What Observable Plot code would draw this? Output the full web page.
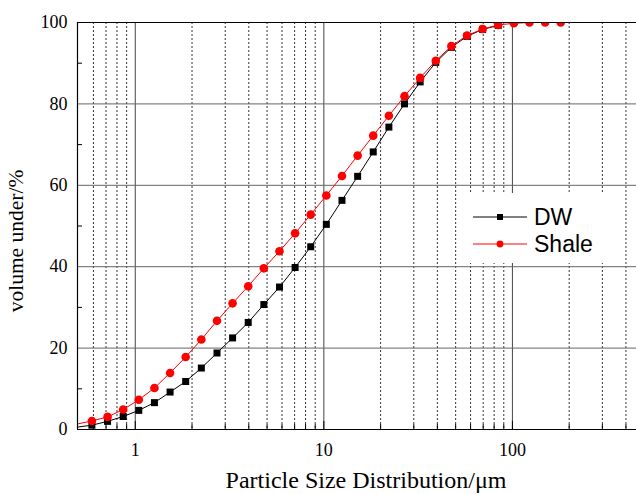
<!DOCTYPE html>
<html>
<head>
<meta charset="utf-8">
<script src="https://cdn.jsdelivr.net/npm/d3@7"></script>
<script src="https://cdn.jsdelivr.net/npm/@observablehq/plot@0.6"></script>
<style>
  html, body { margin: 0; padding: 0; background: #fff; }
  #wrap { position: relative; width: 636px; height: 494px; overflow: hidden; }
  #legend { position: absolute; left: 458px; top: 193px; width: 164px; height: 70px; background: #fff; font-family: "Liberation Sans", Arial, sans-serif; font-size: 23px; color: #000; }
  .row { position: absolute; left: 0; height: 28px; display: flex; align-items: center; }
  .row svg { display: block; margin-left: 15px; }
  .row span { margin-left: 7px; line-height: 28px; }
</style>
</head>
<body>
<div id="wrap"><div id="chart"></div>
<div id="legend">
  <div class="row" style="top:10px"><svg width="54" height="14"><line x1="0" x2="54" y1="7" y2="7" stroke="#000" stroke-width="1"/><rect x="24" y="4" width="6" height="6" fill="#000"/></svg><span>DW</span></div>
  <div class="row" style="top:37px"><svg width="54" height="14"><line x1="0" x2="54" y1="7" y2="7" stroke="#ff0000" stroke-width="1"/><circle cx="27" cy="7" r="3.4" fill="#ff0000"/></svg><span>Shale</span></div>
</div>
</div>
<script>
// Particle sizes (µm)
const sizes = [0.487, 0.589, 0.713, 0.863, 1.044, 1.264, 1.530, 1.851, 2.241, 2.713, 3.282, 3.972, 4.807, 5.818, 7.041, 8.521, 10.31, 12.48, 15.11, 18.28, 22.13, 26.78, 32.41, 39.22, 47.47, 57.44, 69.50, 84.13, 101.8, 123.2, 149.1, 180.4];
// Cumulative volume under (%)
const dwValues = [0.55, 1.06, 2.0, 3.2, 4.7, 6.6, 9.2, 11.8, 15.1, 18.8, 22.5, 26.3, 30.7, 35.0, 39.8, 44.9, 50.4, 56.3, 62.2, 68.2, 74.3, 80.0, 85.4, 90.2, 93.9, 96.6, 98.3, 99.3];
const shaleValues = [1.3, 2.1, 3.1, 4.9, 7.3, 10.2, 13.9, 17.8, 22.1, 26.7, 31.0, 35.2, 39.6, 43.8, 48.2, 52.8, 57.5, 62.3, 67.3, 72.2, 77.1, 81.9, 86.4, 90.6, 94.2, 96.8, 98.4, 99.4, 99.8, 100, 100, 100];
const seriesNames = ["DW", "Shale"];

const xMajor = [1, 10, 100];
const xTickLabels = ["1", "10", "100"];
const xMinor = [0.6, 0.7, 0.8, 0.9, 2, 3, 4, 5, 6, 7, 8, 9, 20, 30, 40, 50, 60, 70, 80, 90, 200, 300, 400];
const yMajor = [0, 20, 40, 60, 80, 100];
const yTickLabels = ["0", "20", "40", "60", "80", "100"];
const yGrid = [20, 40, 60, 80];
const yMinor = [10, 30, 50, 70, 90];
const xTitle = ["Particle Size Distribution/\u03bcm"];
const yTitle = ["volume under/%"];

const dw = dwValues.map((v, i) => ({x: sizes[i], y: v}));
const shale = shaleValues.map((v, i) => ({x: sizes[i], y: v}));
const xDomain = [0.494, 455];
const frameW = 636 - 77, frameH = 429 - 22;

const chart = Plot.plot({
  width: 636,
  height: 494,
  marginLeft: 77,
  marginRight: 0,
  marginTop: 22,
  marginBottom: 65,
  style: {fontFamily: "'Liberation Serif', 'Times New Roman', serif", background: "#fff", color: "#000"},
  x: {type: "log", domain: xDomain},
  y: {domain: [0, 100]},
  marks: [
    Plot.ruleX(xMinor, {stroke: "#000", strokeWidth: 1, strokeDasharray: "2,2", strokeOpacity: 0.8}),
    Plot.ruleX(xMajor, {stroke: "#444", strokeWidth: 1}),
    Plot.ruleY(yGrid, {stroke: "#666", strokeWidth: 1}),
    Plot.tickX(xMinor, {insetTop: frameH - 5, stroke: "#000", strokeWidth: 1}),
    Plot.tickX(xMajor, {insetTop: frameH - 8, stroke: "#000", strokeWidth: 1}),
    Plot.tickY(yMinor, {insetRight: frameW - 5, stroke: "#000", strokeWidth: 1}),
    Plot.line(dw, {x: "x", y: "y", stroke: "#000", strokeWidth: 1, clip: true}),
    Plot.dot(dw, {filter: d => d.x > xDomain[0], x: "x", y: "y", symbol: "square", r: 3.95, fill: "#000", clip: true}),
    Plot.line(shale, {x: "x", y: "y", stroke: "#ff0000", strokeWidth: 1, clip: true}),
    Plot.dot(shale, {filter: d => d.x > xDomain[0], x: "x", y: "y", symbol: "circle", r: 4.3, fill: "#ff0000", clip: true}),
    Plot.ruleY([100], {stroke: "#000", strokeWidth: 1.2}),
    Plot.ruleY([0], {stroke: "#000", strokeWidth: 1.2}),
    Plot.ruleX([xDomain[0]], {stroke: "#000", strokeWidth: 1.2}),
    Plot.axisX(xMajor, {tickSize: 0, tickPadding: 14, fontSize: 18, label: null, tickFormat: d => xTickLabels[xMajor.indexOf(d)]}),
    Plot.axisY(yMajor, {tickSize: 0, tickPadding: 10, fontSize: 18, label: null, tickFormat: d => yTickLabels[yMajor.indexOf(d)]}),
    Plot.text(xTitle, {frameAnchor: "bottom", textAnchor: "middle", dx: 9, dy: 51, fontSize: 24, lineAnchor: "middle"}),
    Plot.text(yTitle, {frameAnchor: "left", textAnchor: "middle", rotate: -90, dx: -61, dy: 15, fontSize: 21.5, lineAnchor: "middle"})
  ]
});
document.getElementById("chart").appendChild(chart);
</script>
</body>
</html>
